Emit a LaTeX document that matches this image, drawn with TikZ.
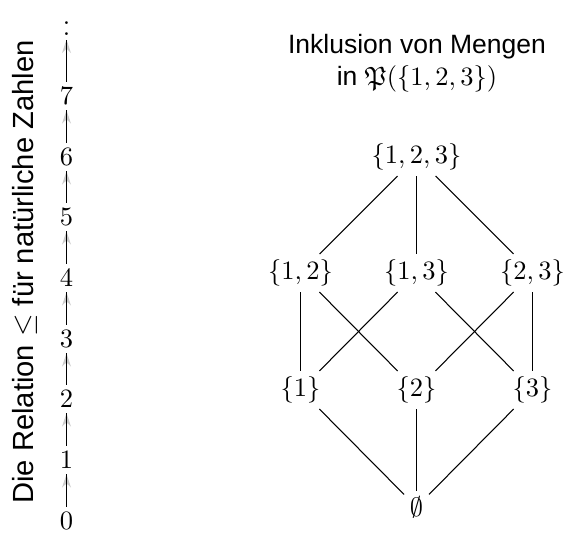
\documentclass[tikz,border=0pt]{standalone}
\usepackage{amssymb}
\usepackage{fontspec}
\setsansfont{Liberation Sans}
\usetikzlibrary{arrows.meta}
\tikzset{
  num/.style={inner sep=2pt},
  setn/.style={inner sep=2pt},
  lbl/.style={font=\sffamily},
  chainarrow/.style={-{Stealth[length=5pt,width=3.4pt,color=gray!40]}},
  edge/.style={line width=0.4pt}
}
\begin{document}
\begin{tikzpicture}[x=0.3774pt,y=-0.3774pt]
\useasboundingbox (0,0) rectangle (567,542);
% left chain
\node[num] (n0) at (66.5,521) {$0$};
\node[num] (n1) at (66.5,460) {$1$};
\node[num] (n2) at (66.5,399) {$2$};
\node[num] (n3) at (66.5,339) {$3$};
\node[num] (n4) at (66.5,278) {$4$};
\node[num] (n5) at (66.5,217) {$5$};
\node[num] (n6) at (66.5,157) {$6$};
\node[num] (n7) at (66.5,96) {$7$};
\node[num, anchor=base] (nd) at (66.5,34) {\raisebox{-4.6pt}[\height][0pt]{$\vdots$}};
\foreach \a/\b in {n0/n1,n1/n2,n2/n3,n3/n4,n4/n5,n5/n6,n6/n7,n7/nd}{
  \draw[chainarrow] (\a) -- (\b);
  \draw[edge] (\a) -- (\b);
}
\node[lbl, rotate=90, anchor=base, font=\sffamily\fontsize{11}{13}\selectfont] (rel) at (33,272) {Die Relation $\leq$ für natürliche Zahlen};
% title
\node[lbl, align=center] (title) at (417,63) {Inklusion von Mengen\\in $\mathfrak{P}(\{1,2,3\})$};
% Hasse diagram
\node[setn] (s123) at (416.5,157) {$\{1,2,3\}$};
\node[setn] (s12) at (300.5,273) {$\{1,2\}$};
\node[setn] (s13) at (416.5,273) {$\{1,3\}$};
\node[setn] (s23) at (532.5,273) {$\{2,3\}$};
\node[setn] (s1) at (300.5,390) {$\{1\}$};
\node[setn] (s2) at (416.5,390) {$\{2\}$};
\node[setn] (s3) at (532.5,390) {$\{3\}$};
\node[setn] (s0) at (416.5,507) {$\emptyset$};
\foreach \a/\b in {s123/s12,s123/s13,s123/s23,
                   s12/s1,s12/s2,s13/s1,s13/s3,s23/s2,s23/s3,
                   s1/s0,s2/s0,s3/s0}{
  \draw[edge] (\a) -- (\b);
}
\end{tikzpicture}
\end{document}
